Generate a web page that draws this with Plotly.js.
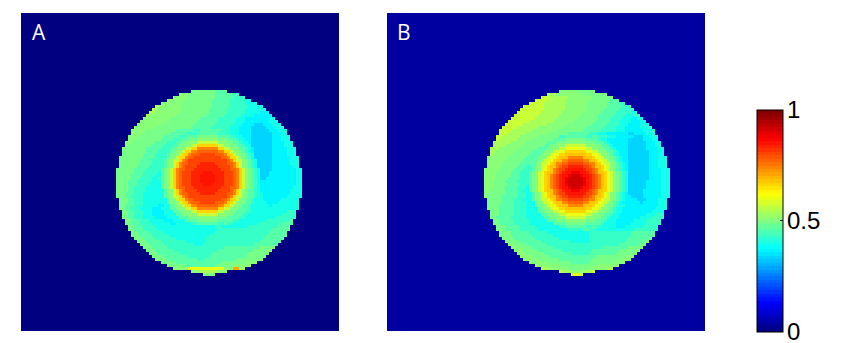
<!DOCTYPE html>
<html><head><meta charset="utf-8">
<script src="https://cdn.plot.ly/plotly-3.0.1.min.js"></script>
<style>html,body{margin:0;padding:0;background:#fff}</style></head>
<body><div id="chart" style="width:850px;height:343px"></div>
<script>
// One string per row of the disc. A letter is a level
// (base 36: a = 10/35 ... z = 1); a number in front of it repeats it.
const discA = [
"8h4g","3i9h6g2f","5i9h6g4f","6i9h6g5f2e","7i10h6g5f4e","1j8i10h6g6f5e","2j8i9h6g6f7e","2j8i10h6g6f5e3d",
"1j9i10h6g6f4e6d","9i10h6g6f3e8d2e","9i10h7g6f3e8d3e","8i11h7g6f3e4d3c3d3e","7i12h7g6f3e4d5c3d3e",
"5i10h6g2f5g2g3f3e4d6c3d3e",
"4i9h5g2fffggg"+"ggggff2f3e4d7c3d2e",
"3i9h5g2fgggghhhhhhhgggg2f2e3d7c3d3e",
"2i9h4g2fggghhhiiiiiiihhhggg1f2e2d7c3d3e",
"2i8h4g3fgghhiiikkkkkkkiiihhgg1f2e1d7c4d3e",
"1i8h4g3fgghhiikknnnnnnnkkiihhgg1f2e7c4d3e",
"8h5g3fgghiikknnqqqqqqqnnkkiihgg1f1e1d6c5d3e",
"8h4g4fghiiknnqqrrrrrrrqqnnkiihg1f1e1d6c5d3e",
"7h4g4fghhiknnqrrrsssssrrrqnnkihhg1f1e6c5d3e",
"8h4g4fghiknnqrrsssssssssrrqnnkihg1f1e6c6d3e",
"7h4g4fghikknqrsssssssssssssrqnkkihg1f1e5c6d3e",
"7h4g4fghiknqrrssssttttta".replace("a","")+"ssssrrqnkihg1f1e5c6d3e",
"6h4g5fghiknqrssssttttttt"+"ssssrqnkihg1f1e5c7d2e",
"6h4g5fghiknqrrsssttttttttt"+"sssrrqnkihg1f1e4c8d2e",
"6h3g5f1eghiknqrsssttttuuutttt"+"sssrqnkihg1f1e3c9d2e",
"5h4g4f2eghiknqrsssstttuuuuuttt".replace("ssss","sss")+"sssrqnkihg1f1e3c9d2e",
"5h3g4f2efghiknqrsssstttuuuuuttt".replace("ssss","sss")+"sssrqnkihgf1e2c10d2e",
"4h3g5f3eghiknqrsssstttuuuuuttt".replace("ssss","sss")+"sssrqnkihg1f1e12d2e",
"4h3g4f4eghiknqrsssttttuuutttt"+"sssrqnkihg1f1e12d2e",
"4h2g4f5eghiknqrrsssttttttttt"+"sssrrqnkihg1f1e11d3e",
"4h2g4f6eghiknqrssssttttttt"+"ssssrqnkihg1g1f1e10d4e",
"3h3g3f7eghiknqrrsssstttttssssrrqnkihg1g1f2e9d4e",
"3h2g4f7eghikknqrsssssssssssssrqnkkihg1g1f2e8d5e",
"3h2g3f8eghiknnqrrsssssssssrrqnnkihg1g1f3e6d6e",
"3h2g3f8eghhiknnqrrrsssssrrrqnnkihhg1g1f4e4d7e",
"2h3g3f5e2d2eghiiknnqqrrrrrrrqqnnkiihg1g1f6e1d9e",
"2h2g3f4e3d3egghiikknnqqqqqqqnnkkiihgg1g1f16e",
"2h2g3f3e4d3egghhiikknnnnnnnkkiihhgg1g2f12e3f",
"2h2g3f3e4d4egghhiiikkkkkkkiiihhgg1g2f11e5f",
"2h2g3f4e4d4eggghhhiiiiiiihhhggg1g2f10e7f",
"2h3g3f5e3d4egggghhhhhhhgggg1g2f9e8f1g",
"2h3g4f6e2d5effggg"+"ggggff1g2f8e8f4g",
"2h3g4f15e5e2f9e10f4g",
"2h3g5f20e18f5g1h","2h4g5f17e18f6g","3h4g6f13e19f7g","3h4g7f10e19f7g","3h5g8f7e18f7g","3h5g10f3e17f8g",
"3h5g19f12g5h","3h6g15f12g6h","3h7g11f12g7h","4h8g7f12g7h","4h10g2f11g9h","5h15g8h4i","6h10g6h6i",
"5i12l3i2p2i","3i6j3i","1h2i1h"
];
const discB = [
"6i6h","3j9i8h","3k6j8i7h","4k6j8i7h3g","5k7j7i7h4g2f","7k7j7i7h5g3f","8k7j7i6h5g5f","8k7j7i6h5g5f2e",
"8k7j7i6h5g4f3e2f","8k7j7i7h4g4f3e2d2e","7k8j7i7h5g3f4e3d2e","6k8j7i8h5g4f3e4d3e","5k7j8i8h6g4f3e5d3e1f",
"4k7j8i9h6g5f3e6d3e1f",
"3k6j7i7h5g2g3f3e7d2c4d3e",
"2k6j6i7hffggg"+"ggggff2g3f3e6d3c2d3e",
"1k6j5i7hgggghhhhhhhgggg1f2e7d5c3d2e",
"6j5i7hggghhhiiiiiiihhhggg1f1e6d6c3d2e",
"4j6i7hgghhiiikkkkkkkiiihhgg1f1e5d6c3d2e",
"3j6i7h1ggghhiikklllllllkkiihhgg1f1e4d6c4d2e",
"2j6i6h2ggghiikkllnnnnnnnllkkiihgg1f1e3d7c3d2e",
"1j6i6h3gghiikllnnooooooonnllkiihg1f1e3d7c3d2e",
"7i6h3gghhikllnoooqqqqqooonllkihhg1f1e2d7c3d3e",
"6i6h4gghikllnooqqrrrrrqqoonllkihg1f1e2d7c3d3e",
"5i6h4gghikklnoqqrrsssssrrqqonlkkihg1f1e1d7c3d3e",
"5i5h3g2fghiklnooqrsstttttssrqoonlkihg1f1e1d7c3d3e",
"5i5h3g3fghiklnoqrsstuuuuutssrqonlkihg1f1e1d7c4d3e",
"4i5h3g3fghiklnooqrstuuvvvuutsrqoonlkihg1f1e7c4d3e",
"4i5h3g3fghiklnoqrstuuvwwwvuutsrqonlkihg1f1e7c4d3e",
"4i4h4g3fghiklnoqrstuvwwwwwvutsrqonlkihg1f1e7c4d3e",
"3i4h4g3ffghiklnoqrstuvwwwwwvutsrqonlkihgf1e6c5d3e",
"3i5h4g3fghiklnoqrstuvwwwwwvutsrqonlkihg1f1e6c5d3e",
"3i4h4g3f1eghiklnoqrstuuvwwwvuutsrqonlkihg1f1e6c5d3e",
"2i5h4g2f2eghiklnooqrstuuvvvuutsrqoonlkihg1f1e5c6d3e",
"2i5h4g3f2eghiklnoqrsstuuuuutssrqonlkihg1f1e1d5c6d3e",
"1i5h5g3f2eghiklnooqrsstttttssrqoonlkihg1f1e2d4c6d3e",
"5h4g3f3eghikklnoqqrrsssssrrqqonlkkihg1f1e4d3c4d3e",
"5h4g4f3eghikllnooqqrrrrrqqoonllkihg1f1e6d1c5d3e",
"4h5g4f3eghhikllnoooqqqqqooonllkihhg1f2e11d3e",
"4h5g4f4eghiikllnnooooooonnllkiihg1f2e11d4e",
"3h5g4f4egghiikkllnnnnnnnllkkiihgg1f2e10d4e",
"3h5g4f5egghhiikklllllllkkiihhgg1f2e9d3e3f",
"2h5g5f6egghhiiikkkkkkkiiihhgg1f3e7d4e4f",
"2h5g5f6eggghhhiiiiiiihhhggg1f3e6d4e5f",
"2h5g5f8egggghhhhhhhgggg1g1f4e5d5e5f",
"3h5g5f8effggg"+"ggggff1g2f5e3d6e5f",
"3h5g6f10e5f2g3f12e8f",
"4h6g6f14e14f8g","4h7g7f12e14f8g","4h7g8f10e13f7g1h","1i4h7g10f6e12f6g2h","2i4h7g24f7g2h","2i5h7g16f9g5h",
"3i5h8g10f9g7h","3i6h9g6f9g7h","4i6h15g10h3i","5i7h11g9h4i","6i8h6g8h4i","1j7i12h8i","3j6i7h6i2j",
"1k3j4i3j1k","1k2l1k"
];
const backgroundA = 0;
const backgroundB = 0.04;
const panelLabels = ["A", "B"];
const barTicks = [0, 0.5, 1];
const barLabels = ["0", "0.5", "1"];

// Library plumbing: panel size and grid placement
const W = 850, H = 343, CELL = 3, GRID = 108, DISC = 62, ROW0 = 26;
function decode(s) {
  const out = [];
  for (const m of s.matchAll(/(\d*)([a-z])/g)) {
    const n = m[1] ? parseInt(m[1], 10) : 1;
    for (let i = 0; i < n; i++) out.push(parseInt(m[2], 36) / 35);
  }
  return out;
}
function toGrid(rows, bg, col0) {
  const z = [];
  for (let r = 0; r < GRID; r++) {
    const line = new Array(GRID).fill(bg);
    const s = rows[r - ROW0];
    if (s) {
      const v = decode(s);
      const off = col0 + Math.floor((DISC - v.length) / 2);
      v.forEach((q, c) => { line[off + c] = q; });
    }
    z.push(line);
  }
  return z;
}
// MATLAB-style jet, 64 flat steps
function jet(t) {
  const f = v => Math.round(255 * Math.max(0, Math.min(1, 1.5 - Math.abs(4 * t - v))));
  return `rgb(${f(3)},${f(2)},${f(1)})`;
}
const jetScale = [];
for (let k = 0; k < 64; k++) {
  const col = jet(k / 63);
  jetScale.push([k / 64, col], [(k + 1) / 64, col]);
}
const base = {type: "heatmap", dx: CELL, y0: 0.5, dy: CELL,
  zmin: 0, zmax: 1, colorscale: jetScale, hoverinfo: "skip", zsmooth: false};
const traces = [
  Object.assign({}, base, {x0: 0.5, z: toGrid(discA, backgroundA, 32), xaxis: "x", yaxis: "y", showscale: false}),
  Object.assign({}, base, {x0: -0.5, z: toGrid(discB, backgroundB, 33), xaxis: "x2", yaxis: "y2", showscale: true,
    colorbar: {x: 757 / W, xref: "paper", xanchor: "left", xpad: 0, ypad: 0,
      y: (H - 220.5) / H, yanchor: "middle", thickness: 25.5, thicknessmode: "pixels",
      len: 222, lenmode: "pixels", outlinecolor: "#000", outlinewidth: 1, borderwidth: 0,
      tickmode: "array", tickvals: [0.5], ticks: "inside", ticklen: 3,
      tickcolor: "#000", tickwidth: 1, showticklabels: false}})
];
const ax = {visible: false, range: [0, 318], fixedrange: true};
const ay = {visible: false, range: [318, 0], fixedrange: true};
const yDomain = [(H - 331) / H, (H - 13) / H];
const barY = t => (H - (331 - t * 222)) / H;
const layout = {
  width: W, height: H, margin: {l: 0, r: 0, t: 0, b: 0}, showlegend: false,
  paper_bgcolor: "#fff", plot_bgcolor: "#fff",
  xaxis: Object.assign({}, ax, {domain: [21 / W, 339 / W]}),
  yaxis: Object.assign({}, ay, {domain: yDomain}),
  xaxis2: Object.assign({}, ax, {domain: [387 / W, 705 / W]}),
  yaxis2: Object.assign({}, ay, {domain: yDomain, anchor: "x2"}),
  shapes: [{type: "line", xref: "paper", yref: "paper", x0: 757 / W, x1: 760 / W, y0: barY(0.5), y1: barY(0.5),
    line: {color: "#000", width: 1}}],
  annotations: panelLabels.map((t, i) => ({text: t, xref: i ? "x2" : "x", yref: i ? "y2" : "y",
    x: i ? 16.5 : 17.5, y: 19, showarrow: false,
    font: {family: "Open Sans, Noto Sans, sans-serif", size: 21, color: "#fff"}})).concat(
    barLabels.map((t, i) => ({text: t, xref: "paper", yref: "paper", x: 785 / W, y: barY(barTicks[i]),
      xanchor: "left", yanchor: "middle", showarrow: false, height: 22,
      font: {family: "Liberation Sans, Arial, sans-serif", size: 24, color: "#000"}})))
};
Plotly.newPlot("chart", traces, layout, {displayModeBar: false, staticPlot: true});
</script></body></html>
